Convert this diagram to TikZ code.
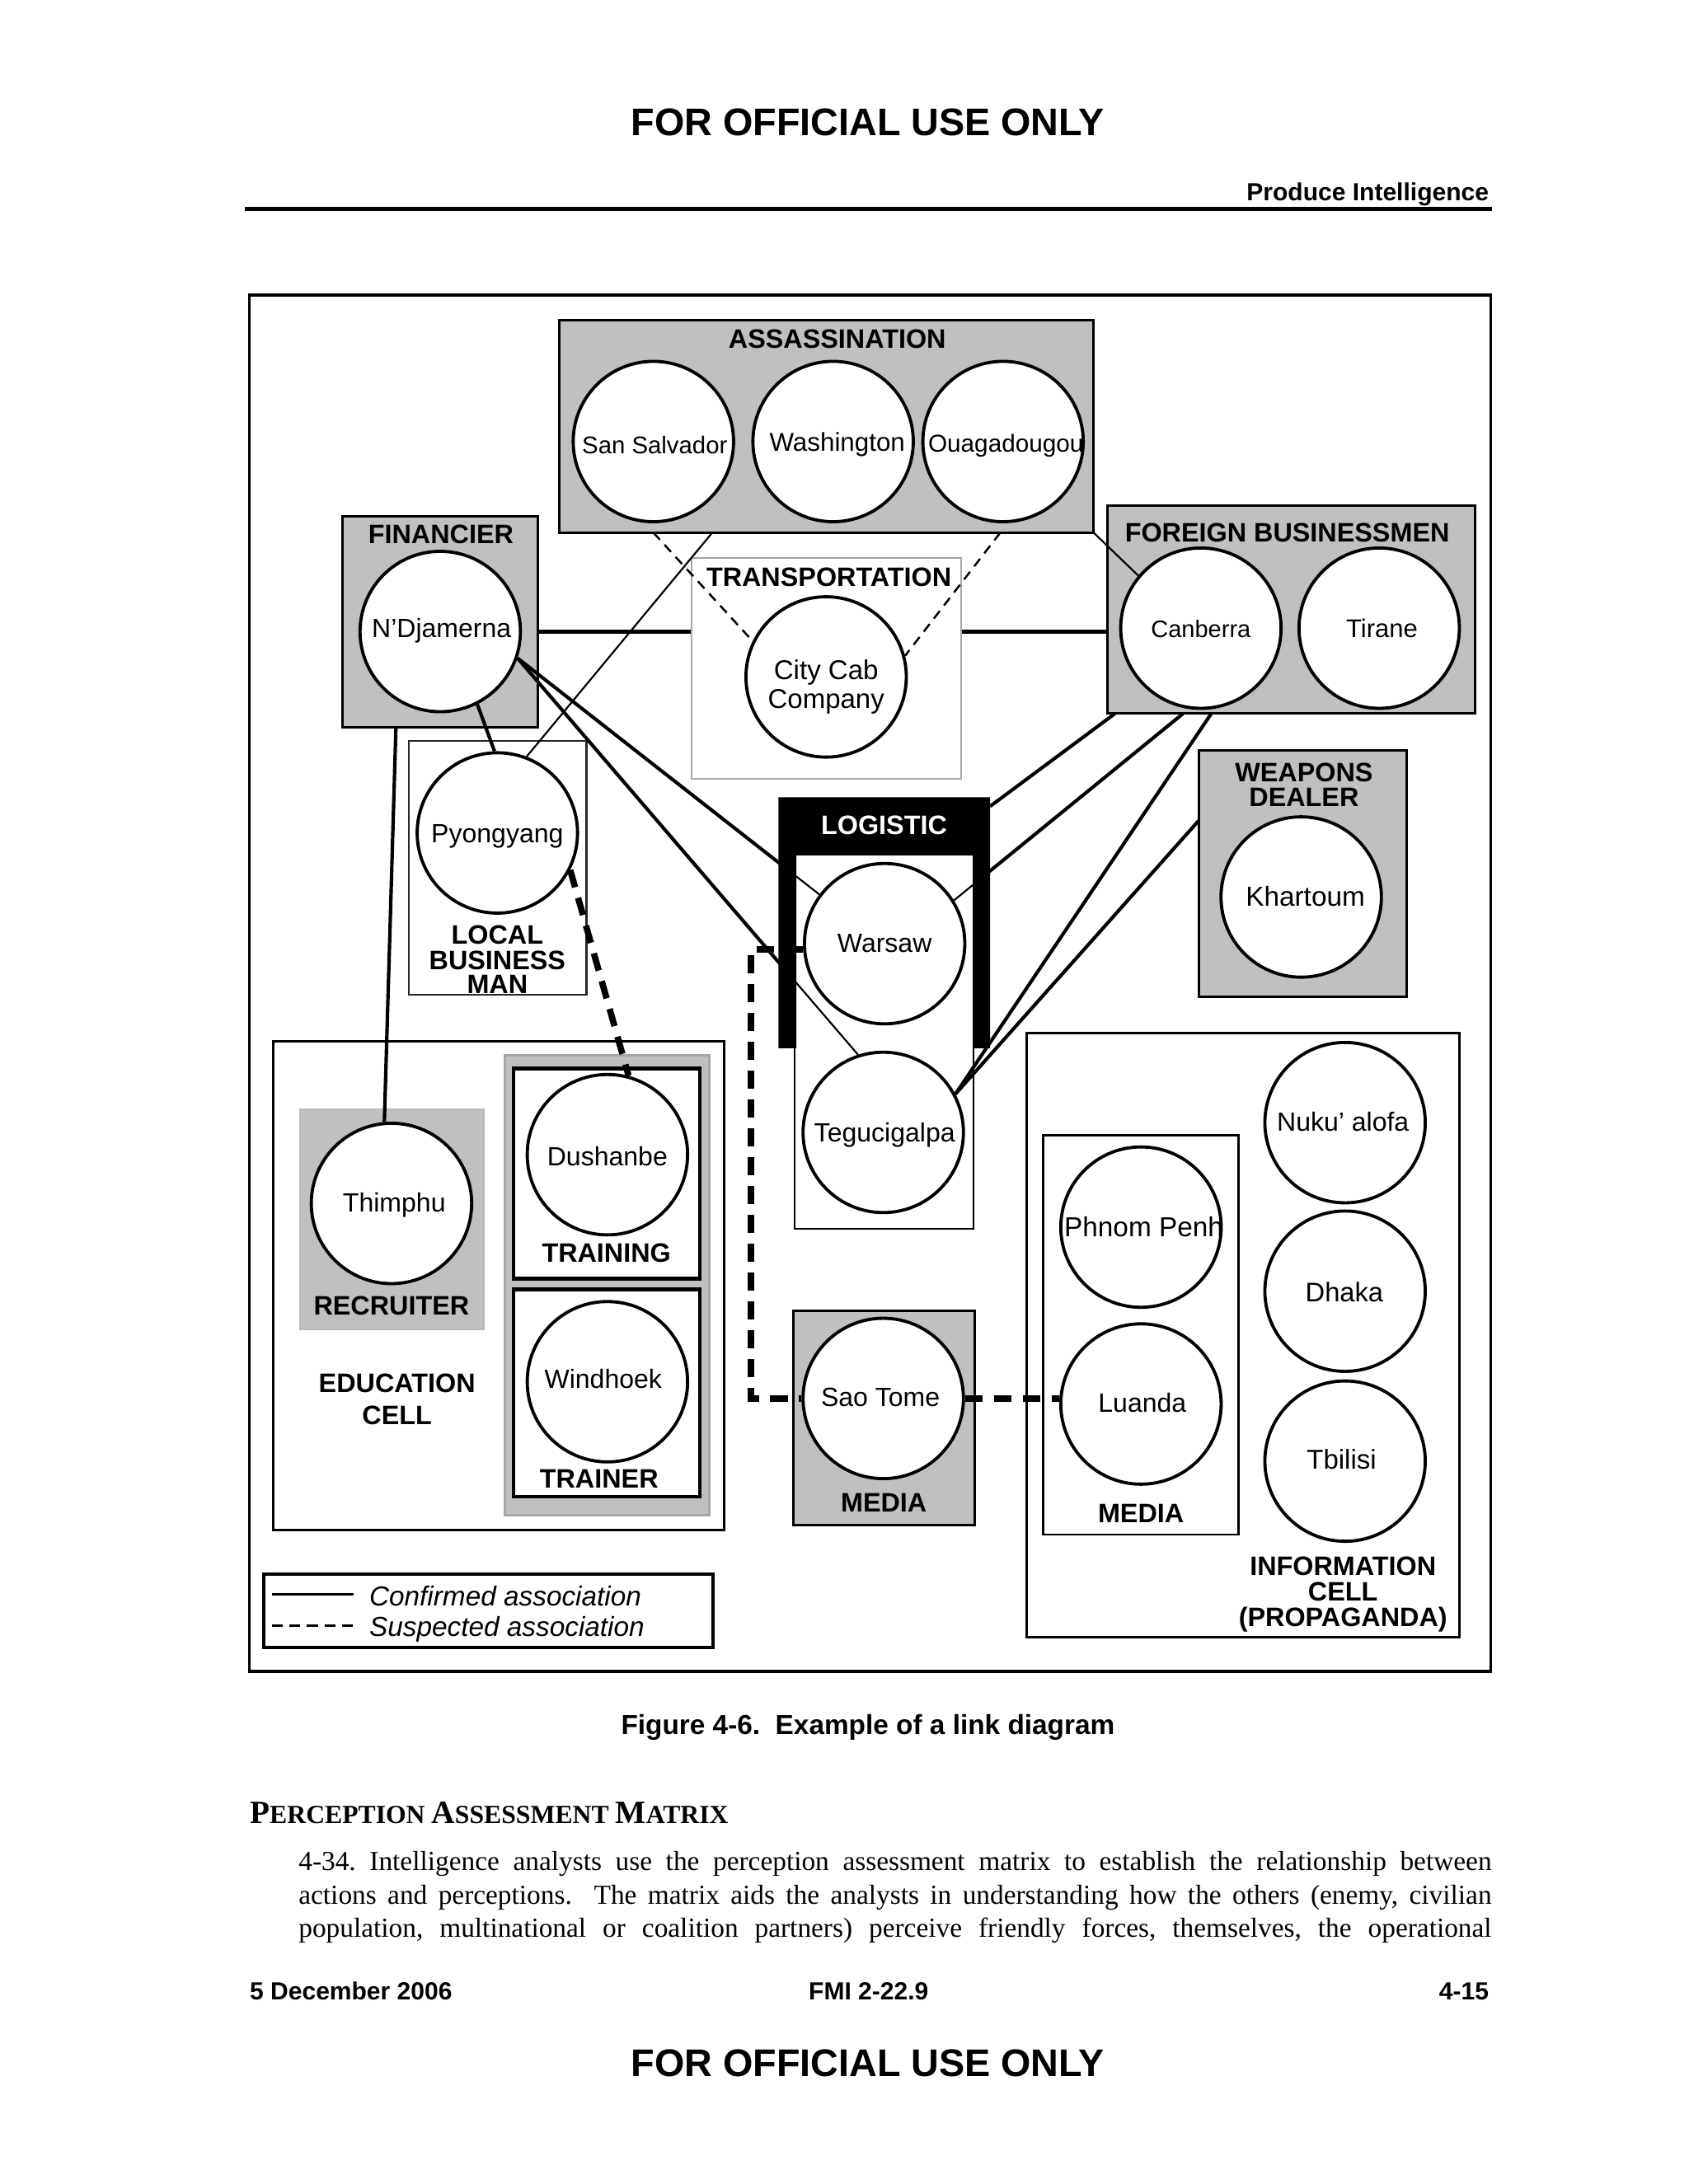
\documentclass[tikz,border=0pt]{standalone}
\usepackage{fontspec}
\setmainfont{Liberation Sans}
\newfontfamily\serifx{Liberation Serif}
\usetikzlibrary{calc}
\definecolor{boxgray}{RGB}{192,192,192}
\pgfdeclarelayer{paper}
\pgfdeclarelayer{back}
\pgfdeclarelayer{boxes}
\pgfdeclarelayer{lines}
\pgfsetlayers{paper,back,boxes,lines,main}
\tikzset{
  city/.style={circle, draw, line width=1.15pt, fill=white, minimum size=2.05cm, inner sep=0pt},
  cname/.style={font=\fontsize{9.6}{11}\selectfont, anchor=base, inner sep=0pt, yshift=-3.45pt},
  gtitle/.style={font=\bfseries\fontsize{9.7}{11}\selectfont, anchor=base, inner sep=0pt},
  graybox/.style={draw, fill=boxgray, line width=0.9pt},
  whitebox/.style={draw, fill=white, line width=0.9pt},
  conf/.style={line width=1.25pt},
  confthin/.style={line width=0.65pt},
  susp/.style={line width=2.3pt, dash pattern=on 6.5pt off 4pt},
  suspthin/.style={line width=0.75pt, dash pattern=on 3.5pt off 2.5pt},
  hdr/.style={font=\bfseries\fontsize{14}{16}\selectfont, anchor=base, inner sep=0pt},
  ftr/.style={font=\bfseries\fontsize{9}{11}\selectfont, inner sep=0pt},
}
\begin{document}
\begin{tikzpicture}[x=0.017813cm, y=-0.017813cm]
\useasboundingbox (0,0) rectangle (1212,1568);
\begin{pgfonlayer}{paper}
\fill[white] (0,0) rectangle (1212,1568);
\end{pgfonlayer}

% ---------- page header / footer ----------
\node[hdr] (hdrtop) at (623,97.5) {FOR OFFICIAL USE ONLY};
\node[ftr, anchor=base east] (sect) at (1069,144) {Produce Intelligence};
\draw[line width=1.3pt] (176,150) -- (1071,150);
\node[font=\bfseries\fontsize{10}{12}\selectfont, anchor=base, inner sep=0pt] (caption) at (623,1245) {Figure 4-6.\ \ Example of a link diagram};
\node[anchor=base west, inner sep=0pt, font=\serifx\bfseries] (heading) at (179,1309)
 {\fontsize{11.8}{13}\selectfont P\fontsize{9.5}{11}\selectfont ERCEPTION \fontsize{11.8}{13}\selectfont A\fontsize{9.5}{11}\selectfont SSESSMENT \fontsize{11.8}{13}\selectfont M\fontsize{9.5}{11}\selectfont ATRIX};
\node[anchor=base west, inner sep=0pt, text width=15.248cm, align=justify, font=\serifx\fontsize{10}{12.12}\selectfont] (para) at (214,1343)
 {\frenchspacing\parfillskip=0pt\parindent=0pt\tolerance=10000\hyphenpenalty=10000\exhyphenpenalty=10000
 4-34. Intelligence analysts use the perception assessment matrix to establish the relationship between\linebreak
 actions and perceptions.\ \ The matrix aids the analysts in understanding how the others (enemy, civilian\linebreak
 population, multinational or coalition partners) perceive friendly forces, themselves, the operational\par};
\node[ftr, anchor=base west] (fdate) at (179,1436) {5 December 2006};
\node[ftr, anchor=base] (fmi) at (623.5,1436) {FMI 2-22.9};
\node[ftr, anchor=base east] (fpage) at (1069,1436) {4-15};
\node[hdr] (hdrbot) at (623,1491) {FOR OFFICIAL USE ONLY};

% ---------- circles (top layer) ----------
\node[city] (ssv) at (469,317) {};
\node[city] (was) at (598,317) {};
\node[city] (oua) at (720,317) {};
\node[city] (ndj) at (316,453.4) {};
\node[city] (cab) at (593,486) {};
\node[city] (can) at (862,451) {};
\node[city] (tir) at (990,451) {};
\node[city] (pyo) at (357,598) {};
\node[city] (kha) at (934,644) {};
\node[city] (war) at (635,677.5) {};
\node[city] (teg) at (634,813) {};
\node[city] (thi) at (281,864) {};
\node[city] (dus) at (436,829) {};
\node[city] (win) at (436,992) {};
\node[city] (sao) at (634,1004) {};
\node[city] (php) at (819,881) {};
\node[city] (lua) at (819,1008) {};
\node[city] (nuk) at (965.5,806) {};
\node[city] (dha) at (965.5,927) {};
\node[city] (tbi) at (965.5,1049) {};

\node[cname, font=\fontsize{8.8}{10}\selectfont] (ssv-t) at (470,319) {San Salvador};
\node[cname, font=\fontsize{9.4}{11}\selectfont] (was-t) at (601,317) {Washington};
\node[cname, font=\fontsize{8.9}{10}\selectfont] (oua-t) at (722,318) {Ouagadougou};
\node[cname] (ndj-t) at (317,451) {N’Djamerna};
\node[cname, font=\fontsize{9.9}{11}\selectfont, yshift=0pt] (cab-t1) at (593,481) {City Cab};
\node[cname, font=\fontsize{9.9}{11}\selectfont, yshift=0pt] (cab-t2) at (593,502) {Company};
\node[cname, font=\fontsize{8.7}{10}\selectfont] (can-t) at (862,451) {Canberra};
\node[cname, font=\fontsize{9.3}{11}\selectfont] (tir-t) at (992,451) {Tirane};
\node[cname] (pyo-t) at (357,598) {Pyongyang};
\node[cname, font=\fontsize{10}{11}\selectfont] (kha-t) at (937,644) {Khartoum};
\node[cname] (war-t) at (635,677) {Warsaw};
\node[cname] (teg-t) at (635,813) {Tegucigalpa};
\node[cname] (thi-t) at (283,863) {Thimphu};
\node[cname] (dus-t) at (436,830) {Dushanbe};
\node[cname] (win-t) at (433,990) {Windhoek};
\node[cname] (sao-t) at (632,1003) {Sao Tome};
\node[cname, font=\fontsize{10}{11}\selectfont] (php-t) at (821,881) {Phnom Penh};
\node[cname] (lua-t) at (820,1007) {Luanda};
\node[cname] (nuk-t) at (964,805) {Nuku’ alofa};
\node[cname, font=\fontsize{9.8}{11}\selectfont] (dha-t) at (965,928) {Dhaka};
\node[cname, font=\fontsize{9.9}{11}\selectfont] (tbi-t) at (963,1048) {Tbilisi};

% ---------- boxes ----------
\begin{pgfonlayer}{boxes}
\draw[line width=1.1pt] (179,212) rectangle (1070,1200);
% assassination
\draw[graybox] (401.5,230) rectangle (785,382.4);
\node[gtitle] (t-ass) at (601,250) {ASSASSINATION};
% financier
\draw[graybox] (245.9,370.8) rectangle (386.3,522.1);
\node[gtitle] (t-fin) at (316.5,390.3) {FINANCIER};
% transportation
\draw[fill=white, draw=gray!70, line width=0.5pt] (496.6,400.5) rectangle (690,559);
\node[gtitle] (t-tra) at (595,421) {TRANSPORTATION};
% foreign businessmen
\draw[graybox] (794.9,363) rectangle (1059,512.4);
\node[gtitle] (t-for) at (924,389) {FOREIGN BUSINESSMEN};
% weapons dealer
\draw[graybox] (860.4,538.5) rectangle (1010,715.4);
\node[gtitle] (t-wea1) at (936,561) {WEAPONS};
\node[gtitle] (t-wea2) at (936,579) {DEALER};
% local business man
\draw[fill=white, draw=black!85, line width=0.7pt] (293.5,531.8) rectangle (420.9,714);
\node[gtitle] (t-loc1) at (357,678) {LOCAL};
\node[gtitle] (t-loc2) at (357,696) {BUSINESS};
\node[gtitle] (t-loc3) at (357,713) {MAN};
% logistic
\draw[fill=white, line width=0.6pt] (570.3,613.8) rectangle (698.7,882.5);
\fill[black] (558.8,572.4) -- (710.7,572.4) -- (710.7,752.5) -- (698.2,752.5) -- (698.2,613.8)
  -- (571.6,613.8) -- (571.6,752.5) -- (558.8,752.5) -- cycle;
\node[gtitle, text=white] (t-log) at (634.6,599.2) {LOGISTIC};
% media (Sao Tome)
\draw[graybox] (569.5,940.8) rectangle (699.4,1094.7);
\node[gtitle] (t-med1) at (634.4,1085.7) {MEDIA};
% education cell
\draw[whitebox] (196.2,747.6) rectangle (519.9,1098.6);
\node[gtitle] (t-edu1) at (285,999.6) {EDUCATION};
\node[gtitle] (t-edu2) at (285,1022.9) {CELL};
\draw[fill=boxgray, draw=gray!55, line width=0.8pt] (215.3,796.5) rectangle (346.9,954.4);
\node[gtitle] (t-rec) at (281,943.8) {RECRUITER};
\draw[fill=boxgray, draw=gray!70, line width=0.8pt] (362.6,757.5) rectangle (509,1088);
\draw[fill=white, line width=1.3pt] (368.8,767.2) rectangle (502.5,918);
\node[gtitle] (t-trg) at (435.3,906) {TRAINING};
\draw[fill=white, line width=1.3pt] (368.8,925.7) rectangle (502.5,1074.5);
\node[gtitle] (t-trn) at (430,1068.5) {TRAINER};
% information cell
\draw[whitebox] (736.7,741.5) rectangle (1047.5,1175.3);
\draw[fill=white, line width=0.8pt] (748.9,814.9) rectangle (889.2,1101.7);
\node[gtitle] (t-med2) at (819,1093.3) {MEDIA};
\node[gtitle] (t-inf1) at (964,1131) {INFORMATION};
\node[gtitle] (t-inf2) at (964,1149.5) {CELL};
\node[gtitle] (t-inf3) at (964,1168) {(PROPAGANDA)};
% legend
\draw[fill=white, line width=1.1pt] (189.3,1130.3) rectangle (511.8,1182.9);
\coordinate (lg1a) at (195,1144.6);
\coordinate (lg1b) at (254,1144.6);
\coordinate (lg2a) at (195,1167.2);
\coordinate (lg2b) at (254,1167.2);
\draw[line width=1.1pt] (lg1a) -- (lg1b);
\draw[line width=1.1pt, dash pattern=on 4pt off 2.4pt] (lg2a) -- (lg2b);
\node[font=\itshape\fontsize{10}{12}\selectfont, anchor=base west, inner sep=0pt] (lg-t1) at (264.7,1153) {Confirmed association};
\node[font=\itshape\fontsize{10}{12}\selectfont, anchor=base west, inner sep=0pt] (lg-t2) at (264.7,1174.7) {Suspected association};
\end{pgfonlayer}

% ---------- connectors hidden behind boxes ----------
\begin{pgfonlayer}{back}
\draw[line width=1.4pt] (ndj) -- (ndj -| can);
\end{pgfonlayer}

% ---------- connectors ----------
\begin{pgfonlayer}{lines}
\coordinate (assb1) at (511.3,382.4);
\coordinate (asscorner) at (785,382.4);
\coordinate (ssvb) at (469,382.4);
\coordinate (ouab) at (718,382.4);
\coordinate (finb) at (284.2,522.1);
\coordinate (fb1) at (800.2,512.4);
\coordinate (lgr1) at (710.7,578.9);
\coordinate (fb2) at (849.1,512.4);
\coordinate (fb3) at (869.4,512.4);
\coordinate (wd1) at (860.4,589.2);
\coordinate (dcorner) at (539.2,680);

\draw[confthin] (pyo.69) -- (assb1);
\draw[confthin] (asscorner) -- (can.140);
\draw[suspthin] (ssvb) -- (cab.154);
\draw[suspthin] (ouab) -- (cab.15);
\draw[conf] (ndj.-63) -- (pyo.92);
\draw[confthin] (ndj.-19) -- (war.143);
\draw[conf] (ndj.-19) -- ($(ndj.-19)!0.88!(war.143)$);
\draw[confthin] (ndj.-19) -- (teg.108);
\draw[conf] (ndj.-19) -- ($(ndj.-19)!0.785!(teg.108)$);
\draw[conf] (finb) -- (thi.95);
\draw[conf] (fb1) -- (lgr1);
\draw[confthin] (fb2) -- (war.32);
\draw[conf] (fb2) -- ($(fb2)!0.872!(war.32)$);
\draw[conf] (fb3) -- (teg.28);
\draw[conf] (wd1) -- (teg.28);

\draw[susp] (pyo.-27) -- (dus.75);
\draw[susp] (war.184) -- (war.184 -| dcorner) |- (sao.west);
\draw[susp] (sao.east) -- (lua.west |- sao.east);
\end{pgfonlayer}
\end{tikzpicture}
\end{document}
